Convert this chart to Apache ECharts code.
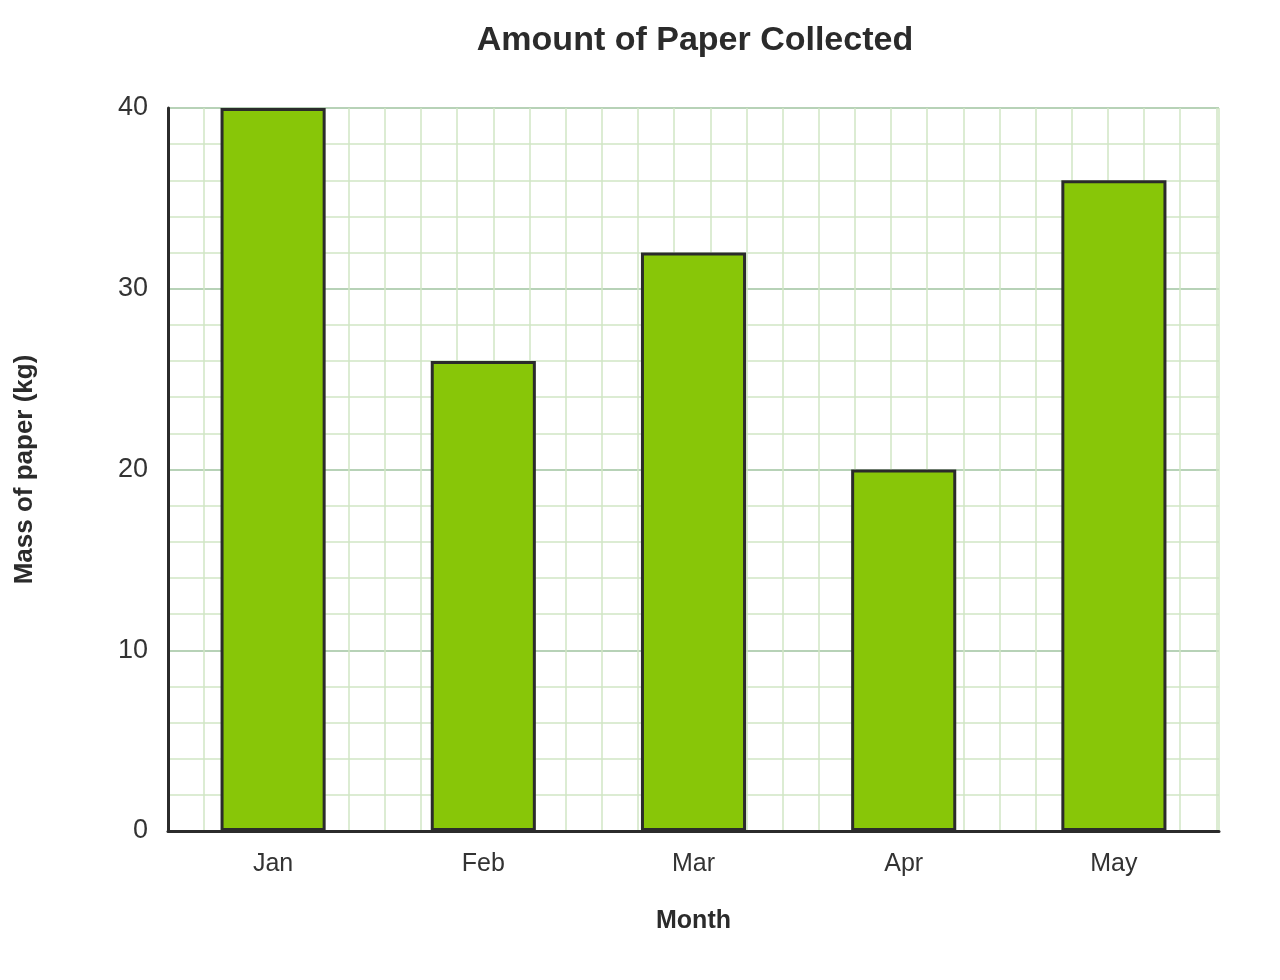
<!DOCTYPE html>
<html>
<head>
<meta charset="utf-8">
<script src="https://cdn.jsdelivr.net/npm/echarts@6/dist/echarts.min.js"></script>
<style>html,body{margin:0;padding:0;background:#fff}#c{width:1280px;height:980px}</style>
</head>
<body>
<div id="c"></div>
<script>
const categories = ['Jan', 'Feb', 'Mar', 'Apr', 'May'];
const values = [40, 26, 32, 20, 36];
const yTicks = [0, 10, 20, 30, 40];

const gridLeft = 168, gridRight = 61, gridTop = 108, gridBottom = 149;
const plotW = 1280 - gridLeft - gridRight;
const plotH = 980 - gridTop - gridBottom;
const cell = plotH / 20;
const font = 'Liberation Sans, Arial, sans-serif';

const chart = echarts.init(document.getElementById('c'));
chart.setOption({
  animation: false,
  backgroundColor: '#fff',
  title: {
    text: 'Amount of Paper Collected',
    left: 690, top: 19, textAlign: 'center',
    textStyle: {fontFamily: font, fontSize: 34, fontWeight: 'bold', color: '#2b2b2b'}
  },
  grid: {left: gridLeft, right: gridRight, top: gridTop, bottom: gridBottom},
  xAxis: [{
    type: 'category', data: categories,
    name: 'Month', nameLocation: 'middle', nameGap: 78,
    nameTextStyle: {fontFamily: font, fontSize: 25, fontWeight: 'bold', color: '#2b2b2b'},
    axisLine: {lineStyle: {color: '#2b2b2b', width: 3}},
    axisTick: {show: false},
    axisLabel: {fontFamily: font, fontSize: 25, color: '#333', margin: 21},
    splitLine: {show: false}, z: 5
  }, {
    type: 'value', min: 0, max: plotW / cell, interval: 1, show: true, position: 'bottom',
    axisLine: {show: false}, axisTick: {show: false}, axisLabel: {show: false},
    splitLine: {show: true, lineStyle: {color: '#d1e6c5', width: 1.5}}, z: 0
  }],
  yAxis: {
    type: 'value', min: 0, max: 40, interval: 10,
    name: 'Mass of paper (kg)', nameLocation: 'middle', nameGap: 130, nameRotate: 90,
    nameTextStyle: {fontFamily: font, fontSize: 26, fontWeight: 'bold', color: '#2b2b2b'},
    axisLine: {show: true, lineStyle: {color: '#2b2b2b', width: 3}},
    axisTick: {show: false},
    axisLabel: {fontFamily: font, fontSize: 27, color: '#333', margin: 20, padding: [3, 0, 0, 0],
      formatter: v => yTicks.includes(v) ? String(v) : ''},
    splitLine: {show: true, lineStyle: {color: '#9fc39f', width: 1.5}},
    minorTick: {show: false, splitNumber: 5},
    minorSplitLine: {show: true, lineStyle: {color: '#d1e6c5', width: 1.5}}
  },
  series: [{
    type: 'bar', data: values, xAxisIndex: 0, barWidth: '50%',
    itemStyle: {color: '#88c608', borderColor: '#2b2b2b', borderWidth: 3},
    z: 3
  }]
});
</script>
</body>
</html>
